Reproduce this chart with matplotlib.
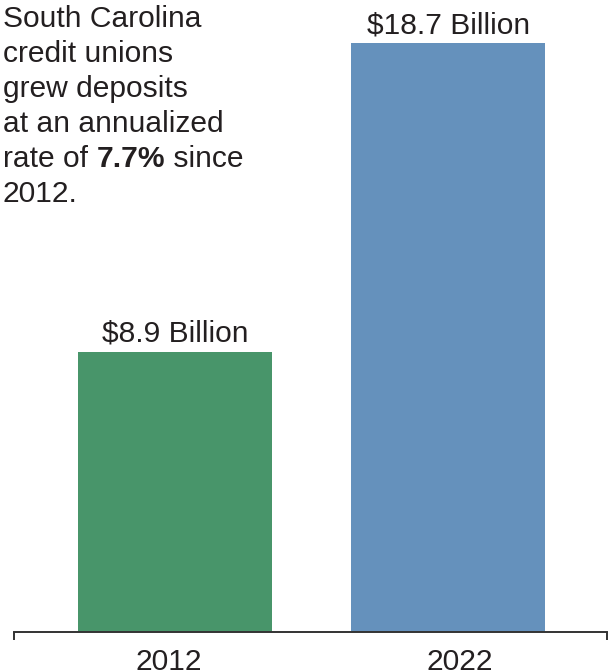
import matplotlib
matplotlib.use("Agg")
import matplotlib.pyplot as plt

# data
years = ["2012", "2022"]
deposits = [8.9, 18.7]              # billions of dollars
value_labels = ["$8.9 Billion", "$18.7 Billion"]
bar_colors = ["#48956a", "#6591bc"]
note_lines = ["South Carolina", "credit unions", "grew deposits", "at an annualized"]
note_rate = ["rate of ", "7.7%", " since"]
note_tail = "2012."

plt.rcParams["font.family"] = ["Liberation Sans", "DejaVu Sans"]
text_color = "#231f20"
fs = 21.6

fig = plt.figure(figsize=(6.08, 6.71), dpi=100)
ax = fig.add_axes([14 / 608, 39 / 671, 593 / 608, 632 / 671])

x = list(range(len(years)))
bars = ax.bar(x, deposits, width=0.71, color=bar_colors)

for b, lab in zip(bars, value_labels):
    ax.annotate(lab, (b.get_x() + b.get_width() / 2, b.get_height()),
                xytext=(0, 7), textcoords="offset points",
                ha="center", va="baseline", fontsize=fs, color=text_color)

ax.set_xlim(-0.589, 1.58)
ax.set_ylim(0, 20.06)

# year labels sit a little off the bar centres in the original
ax.set_xticks([-0.022, 1.042])
ax.set_xticklabels(years, fontsize=fs, color=text_color)
ax.tick_params(axis="x", which="major", length=0, pad=11.5)
ax.set_xticks([-0.589, 1.58], minor=True)
ax.tick_params(axis="x", which="minor", length=6, width=1.4, color="#333333", direction="out")
ax.set_yticks([])

for s in ["top", "right", "left"]:
    ax.spines[s].set_visible(False)
ax.spines["bottom"].set_linewidth(1.4)
ax.spines["bottom"].set_color("#333333")

# annotation in the upper left
def ypix(p):
    return 1 - p / 671

xl = 3 / 608
for i, line in enumerate(note_lines):
    fig.text(xl, ypix(27 + 35 * i), line, fontsize=fs, color=text_color, va="baseline")

# mixed-weight line: place pieces one after another on the same baseline
renderer = fig.canvas.get_renderer()
xpos = xl
for piece, w in zip(note_rate, ["normal", "bold", "normal"]):
    t = fig.text(xpos, ypix(27 + 35 * 4), piece, fontsize=fs, color=text_color,
                 weight=w, va="baseline")
    bb = t.get_window_extent(renderer)
    xpos = bb.x1 / fig.bbox.width

fig.text(xl, ypix(27 + 35 * 5), note_tail, fontsize=fs, color=text_color, va="baseline")

fig.savefig("out.png", dpi=100)
